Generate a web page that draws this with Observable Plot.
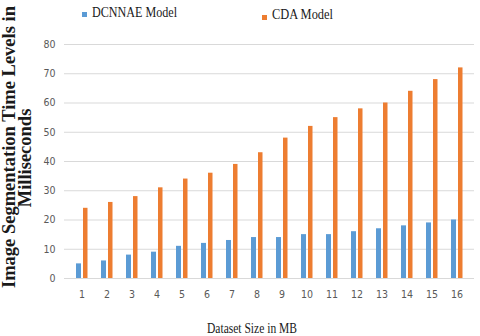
<!DOCTYPE html>
<html>
<head>
<meta charset="utf-8">
<script src="https://cdn.jsdelivr.net/npm/d3@7"></script>
<script src="https://cdn.jsdelivr.net/npm/@observablehq/plot@0.6"></script>
<style>
  html, body { margin: 0; padding: 0; background: #fff; }
  #chart svg { display: block; background: #fff; }
</style>
</head>
<body>
<div id="chart"></div>
<script>
const sizes = [1, 2, 3, 4, 5, 6, 7, 8, 9, 10, 11, 12, 13, 14, 15, 16];
const dcnnae = [5, 6, 8, 9, 11, 12, 13, 14, 14, 15, 15, 16, 17, 18, 19, 20];
const cda = [24, 26, 28, 31, 34, 36, 39, 43, 48, 52, 55, 58, 60, 64, 68, 72];
const yTicks = [0, 10, 20, 30, 40, 50, 60, 70, 80];
const seriesNames = ["DCNNAE Model", "CDA Model"];
const colors = ["#5B9BD5", "#ED7D31"];

const rows = sizes.map((s, i) => ({size: s, dcnnae: dcnnae[i], cda: cda[i]}));

const svg = Plot.plot({
  width: 480,
  height: 336,
  marginLeft: 64,
  marginRight: 6,
  marginTop: 44,
  marginBottom: 58,
  style: {
    fontFamily: "'Liberation Sans Narrow', 'DejaVu Sans Condensed', 'Liberation Sans', sans-serif",
    fontSize: "10.5px",
    color: "#595959",
    background: "#fff"
  },
  x: {type: "band", domain: sizes, padding: 0, label: null, tickSize: 0, tickPadding: 12},
  y: {domain: [0, 80], ticks: yTicks, label: null, tickSize: 0, tickPadding: 9},
  marks: [
    Plot.ruleY(yTicks, {stroke: "#d9d9d9", strokeWidth: 1}),
    Plot.barY(rows, {x: "size", y: "dcnnae", fill: colors[0], insetLeft: 7, insetRight: 13}),
    Plot.barY(rows, {x: "size", y: "cda", fill: colors[1], insetLeft: 14, insetRight: 6.5})
  ]
});

const s = d3.select(svg);
const serif = "'Liberation Serif', 'Times New Roman', serif";

// Legend
const legend = [
  {name: seriesNames[0], color: colors[0], sx: 82, sy: 12, tx: 92, ty: 17, w: 85},
  {name: seriesNames[1], color: colors[1], sx: 262, sy: 15, tx: 272, ty: 19, w: 61}
];
legend.forEach(l => {
  s.append("rect").attr("x", l.sx).attr("y", l.sy).attr("width", 5).attr("height", 5).attr("fill", l.color);
  s.append("text").attr("x", l.tx).attr("y", l.ty)
    .attr("text-anchor", "start")
    .attr("font-family", serif).attr("font-size", 15).attr("fill", "#1a1a1a")
    .attr("textLength", l.w).attr("lengthAdjust", "spacingAndGlyphs")
    .text(l.name);
});

// X axis title
s.append("text").attr("x", 252).attr("y", 333).attr("text-anchor", "middle")
  .attr("font-family", serif).attr("font-size", 15).attr("fill", "#1a1a1a")
  .attr("textLength", 90).attr("lengthAdjust", "spacingAndGlyphs")
  .text("Dataset Size in MB");

// Y axis title (two lines)
s.append("text").attr("transform", "translate(15,288) rotate(-90)")
  .attr("text-anchor", "start")
  .attr("font-family", serif).attr("font-size", 18.5).attr("font-weight", "bold").attr("fill", "#1a1a1a")
  .text("Image Segmentation Time Levels in");
s.append("text").attr("transform", "translate(31,158) rotate(-90)")
  .attr("text-anchor", "middle")
  .attr("font-family", serif).attr("font-size", 18.5).attr("font-weight", "bold").attr("fill", "#1a1a1a")
  .text("Milliseconds");

document.getElementById("chart").appendChild(svg);
</script>
</body>
</html>
